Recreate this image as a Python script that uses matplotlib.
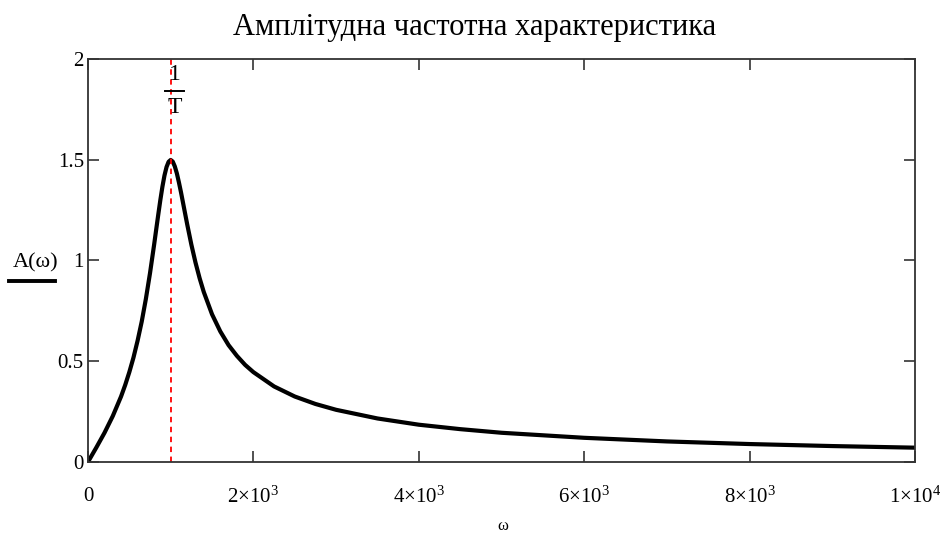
import matplotlib
matplotlib.use('Agg')
import matplotlib.pyplot as plt
from matplotlib.lines import Line2D

plt.rcParams['font.family'] = ['Liberation Serif', 'DejaVu Serif']
plt.rcParams['mathtext.fontset'] = 'custom'
plt.rcParams['mathtext.rm'] = 'Liberation Serif'
plt.rcParams['mathtext.it'] = 'Liberation Serif'

title = 'Амплітудна частотна характеристика'

# values
omega = [0, 100, 200, 300, 400, 450, 500, 550, 600, 650, 700, 750, 800, 825,
         850, 875, 900, 925, 950, 975, 1000, 1025, 1050, 1075, 1100, 1125,
         1150, 1175, 1200, 1250, 1300, 1350, 1400, 1500, 1600, 1700, 1800,
         1900, 2000, 2250, 2500, 2750, 3000, 3500, 4000, 4500, 5000, 6000,
         7000, 8000, 9000, 10000]
A = [0.0, 0.071, 0.145, 0.228, 0.325, 0.382, 0.446, 0.518, 0.602, 0.697,
     0.809, 0.937, 1.079, 1.154, 1.228, 1.300, 1.366, 1.422, 1.464, 1.490,
     1.499, 1.491, 1.467, 1.432, 1.387, 1.338, 1.285, 1.232, 1.179, 1.079,
     0.990, 0.912, 0.844, 0.733, 0.648, 0.580, 0.527, 0.482, 0.446, 0.375,
     0.325, 0.288, 0.259, 0.216, 0.185, 0.163, 0.145, 0.120, 0.102, 0.089,
     0.079, 0.071]
omega_res = 1000  # 1/T

xticks = [0, 2000, 4000, 6000, 8000, 10000]
xticklabels = ['0', r'$2{\times}10^{3}$', r'$4{\times}10^{3}$',
               r'$6{\times}10^{3}$', r'$8{\times}10^{3}$', r'$1{\times}10^{4}$']
yticks = [0, 0.5, 1, 1.5, 2]
yticklabels = ['0', '0.5', '1', '1.5', '2']

fig = plt.figure(figsize=(9.49, 5.38), dpi=100)
ax = fig.add_axes([0.0927, 0.1413, 0.8715, 0.749])

ax.plot(omega, A, color='black', linewidth=3.0)
ax.axvline(omega_res, color='red', linewidth=1.3, linestyle=(0, (3, 2.5)))

# 1/T label as a stacked fraction
ax.text(omega_res + 50, 1.925, '1', ha='center', va='center', fontsize=17)
ax.plot([omega_res - 70, omega_res + 160], [1.841, 1.841], color='black',
        linewidth=1.4)
ax.text(omega_res + 55, 1.757, 'T', ha='center', va='center', fontsize=17)

ax.set_xlim(0, 10000)
ax.set_ylim(0, 2)
ax.set_xticks(xticks)
ax.set_xticklabels(xticklabels, fontsize=15)
ax.set_yticks(yticks)
ax.set_yticklabels(yticklabels, fontsize=15)
ax.tick_params(direction='in', length=8, width=1.2, top=True, right=True,
               color='#333333')
ax.tick_params(axis='x', pad=18)
ax.tick_params(axis='y', pad=3)
for s in ax.spines.values():
    s.set_linewidth(1.3)
    s.set_color('#333333')

fig.text(0.5, 1 - 27 / 538, title, ha='center', va='center', fontsize=22)
fig.text(503 / 949, 1 - 526 / 538, 'ω', ha='center', va='center', fontsize=12)
fig.text(36 / 949, 1 - 263 / 538, 'A(ω)', ha='center', va='center', fontsize=16)
fig.add_artist(Line2D([9 / 949, 55 / 949], [1 - 281 / 538, 1 - 281 / 538],
                      color='black', linewidth=2.8, transform=fig.transFigure))

fig.savefig('out.png', dpi=100)
